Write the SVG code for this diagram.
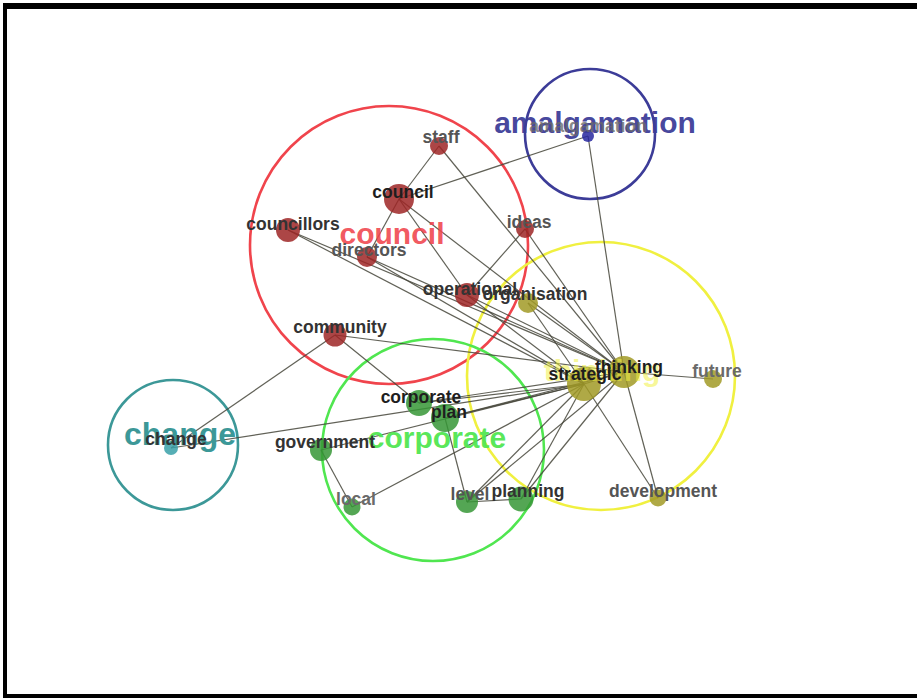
<svg xmlns="http://www.w3.org/2000/svg" width="917" height="698" viewBox="0 0 917 698">
<style>
.frame{fill:#000}
.cl{fill:none;stroke-width:2.6}
.clab{font-family:"Liberation Sans",Arial,sans-serif;font-weight:bold;font-size:30px;text-anchor:middle}
.e{stroke:#45453a;stroke-width:1.2;stroke-opacity:0.85;fill:none}
.n{fill-opacity:0.85}
.red{fill:#9e2626}
.grn{fill:#369636}
.olv{fill:#a19a26}
.blu{fill:#2828a0}
.tea{fill:#38a0a8}
.lab{font-family:"Liberation Sans",Arial,sans-serif;font-weight:bold;font-size:17.5px;text-anchor:middle}
.k{fill:#1e1e1e}
.d{fill:#333}
.g{fill:#555}
.l{fill:#6a6a6a}
</style>
<rect width="917" height="698" fill="#fff"/>
<g id="frame">
<rect class="frame" x="3" y="3" width="914" height="6"/>
<rect class="frame" x="3" y="3" width="4" height="695"/>
<rect class="frame" x="3" y="694" width="914" height="4"/>
</g>
<g id="clusters">
<circle class="cl" cx="389" cy="245" r="139" stroke="#f0444c"/>
<circle class="cl" cx="590" cy="134" r="65" stroke="#3c3c98"/>
<circle class="cl" cx="601" cy="376" r="134" stroke="#f0f040"/>
<circle class="cl" cx="433" cy="450" r="111" stroke="#50e650"/>
<circle class="cl" cx="173" cy="445" r="65" stroke="#3c9898"/>
</g>
<g id="edges">
<line class="e" x1="439" y1="146" x2="399" y2="199"/>
<line class="e" x1="439" y1="146" x2="624" y2="372"/>
<line class="e" x1="399" y1="199" x2="588" y2="136"/>
<line class="e" x1="399" y1="199" x2="367" y2="257"/>
<line class="e" x1="399" y1="199" x2="467" y2="295"/>
<line class="e" x1="399" y1="199" x2="624" y2="372"/>
<line class="e" x1="288" y1="230" x2="624" y2="372"/>
<line class="e" x1="288" y1="230" x2="584" y2="384"/>
<line class="e" x1="367" y1="257" x2="624" y2="372"/>
<line class="e" x1="367" y1="257" x2="584" y2="384"/>
<line class="e" x1="525" y1="229" x2="467" y2="295"/>
<line class="e" x1="525" y1="229" x2="624" y2="372"/>
<line class="e" x1="588" y1="136" x2="624" y2="372"/>
<line class="e" x1="467" y1="295" x2="624" y2="372"/>
<line class="e" x1="467" y1="295" x2="584" y2="384"/>
<line class="e" x1="528" y1="303" x2="624" y2="372"/>
<line class="e" x1="528" y1="303" x2="584" y2="384"/>
<line class="e" x1="335" y1="335" x2="624" y2="372"/>
<line class="e" x1="335" y1="335" x2="419" y2="403"/>
<line class="e" x1="335" y1="335" x2="171" y2="448"/>
<line class="e" x1="171" y1="448" x2="584" y2="384"/>
<line class="e" x1="419" y1="403" x2="584" y2="384"/>
<line class="e" x1="419" y1="403" x2="624" y2="372"/>
<line class="e" x1="445" y1="418" x2="584" y2="384"/>
<line class="e" x1="445" y1="418" x2="624" y2="372"/>
<line class="e" x1="445" y1="418" x2="467" y2="502"/>
<line class="e" x1="321" y1="450" x2="584" y2="384"/>
<line class="e" x1="321" y1="450" x2="352" y2="507"/>
<line class="e" x1="352" y1="507" x2="584" y2="384"/>
<line class="e" x1="467" y1="502" x2="521" y2="499"/>
<line class="e" x1="467" y1="502" x2="584" y2="384"/>
<line class="e" x1="467" y1="502" x2="624" y2="372"/>
<line class="e" x1="521" y1="499" x2="584" y2="384"/>
<line class="e" x1="521" y1="499" x2="624" y2="372"/>
<line class="e" x1="584" y1="384" x2="624" y2="372"/>
<line class="e" x1="624" y1="372" x2="713" y2="379"/>
<line class="e" x1="658" y1="498" x2="584" y2="384"/>
<line class="e" x1="658" y1="498" x2="624" y2="372"/>
</g>
<g id="n-staff"><circle class="n red" cx="439" cy="146" r="9"/></g>
<g id="n-council"><circle class="n red" cx="399" cy="199" r="15"/></g>
<g id="n-councillors"><circle class="n red" cx="288" cy="230" r="12"/></g>
<g id="n-directors"><circle class="n red" cx="367" cy="257" r="10"/></g>
<g id="n-ideas"><circle class="n red" cx="525" cy="229" r="9"/></g>
<g id="n-operational"><circle class="n red" cx="467" cy="295" r="12"/></g>
<g id="n-community"><circle class="n red" cx="335" cy="335" r="11.5"/></g>
<g id="n-organisation"><circle class="n olv" cx="528" cy="303" r="10"/></g>
<g id="n-strategic"><circle class="n olv" cx="584" cy="384" r="17"/></g>
<g id="n-thinking"><circle class="n olv" cx="624" cy="372" r="16"/></g>
<g id="n-future"><circle class="n olv" cx="713" cy="379" r="9"/></g>
<g id="n-development"><circle class="n olv" cx="658" cy="498" r="8.5"/></g>
<g id="n-amalgamation"><circle class="n blu" cx="588" cy="136" r="6"/></g>
<g id="n-change"><circle class="n tea" cx="171" cy="448" r="7"/></g>
<g id="n-corporate"><circle class="n grn" cx="419" cy="403" r="13"/></g>
<g id="n-plan"><circle class="n grn" cx="445" cy="418" r="14"/></g>
<g id="n-government"><circle class="n grn" cx="321" cy="450" r="11"/></g>
<g id="n-local"><circle class="n grn" cx="352" cy="507" r="8.5"/></g>
<g id="n-level"><circle class="n grn" cx="467" cy="502" r="11"/></g>
<g id="n-planning"><circle class="n grn" cx="521" cy="499" r="12.5"/></g>
<g id="cluster-labels">
<text class="clab" x="392" y="244" fill="#f0444c" fill-opacity="0.9">council</text>
<text class="clab" x="595" y="133" fill="#3c3c98" fill-opacity="0.95">amalgamation</text>
<text class="clab" x="602" y="381" fill="#f0f040" fill-opacity="0.55">thinking</text>
<text class="clab" x="437" y="448" fill="#50e650" fill-opacity="0.95">corporate</text>
<text class="clab" x="180" y="445" fill="#3c9898" style="font-size:32px">change</text>
</g>
<g id="labels">
<text class="lab g" x="441" y="143">staff</text>
<text class="lab k" x="403" y="198">council</text>
<text class="lab d" x="293" y="230">councillors</text>
<text class="lab g" x="369" y="256">directors</text>
<text class="lab g" x="529" y="228">ideas</text>
<text class="lab d" x="470" y="295">operational</text>
<text class="lab d" x="535" y="300">organisation</text>
<text class="lab d" x="340" y="333">community</text>
<text class="lab k" x="585" y="380">strategic</text>
<text class="lab k" x="629" y="373">thinking</text>
<text class="lab l" x="717" y="377">future</text>
<text class="lab g" x="663" y="497">development</text>
<text class="lab l" x="588" y="132" fill-opacity="0.8">amalgamation</text>
<text class="lab d" x="176" y="445">change</text>
<text class="lab k" x="421" y="403">corporate</text>
<text class="lab k" x="449" y="418">plan</text>
<text class="lab d" x="325" y="448">government</text>
<text class="lab l" x="356" y="505">local</text>
<text class="lab g" x="470" y="500">level</text>
<text class="lab d" x="528" y="497">planning</text>
</g>
</svg>
